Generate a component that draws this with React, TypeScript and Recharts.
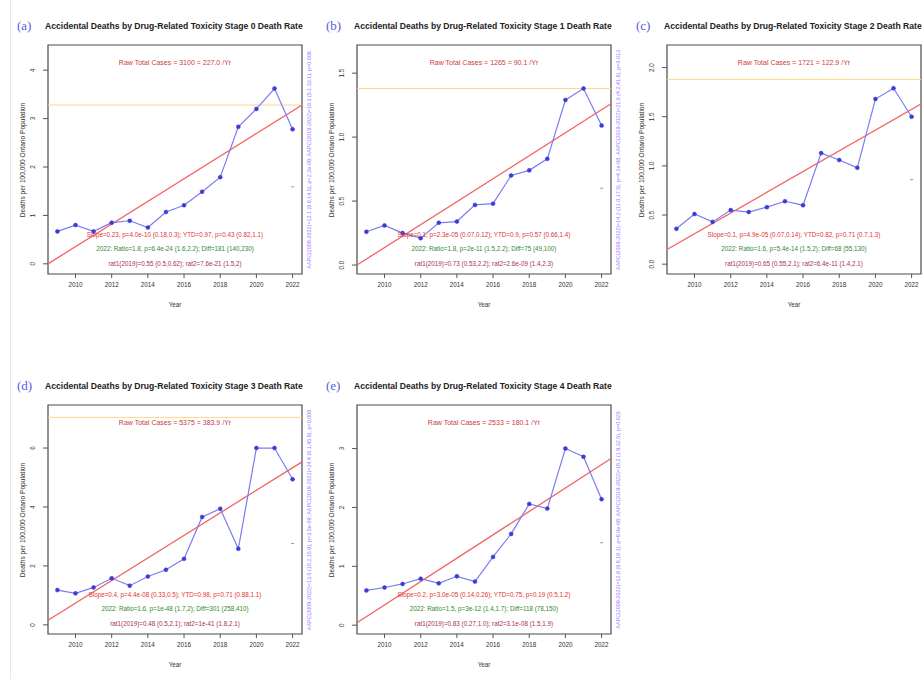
import {
  ComposedChart,
  Line,
  ReferenceArea,
  ReferenceLine,
  Scatter,
  XAxis,
  YAxis,
} from "recharts";

const YEARS = [2009, 2010, 2011, 2012, 2013, 2014, 2015, 2016, 2017, 2018, 2019, 2020, 2021, 2022];
const X_TICKS = [2010, 2012, 2014, 2016, 2018, 2020, 2022];
const X_DOMAIN: [number, number] = [2008.48, 2022.52];

// deaths per 100,000
const STAGE0_RATE = [0.67, 0.8, 0.67, 0.85, 0.89, 0.75, 1.07, 1.21, 1.49, 1.79, 2.83, 3.2, 3.62, 2.78];
const STAGE1_RATE = [0.26, 0.31, 0.25, 0.21, 0.33, 0.34, 0.47, 0.48, 0.7, 0.74, 0.83, 1.29, 1.38, 1.09];
const STAGE2_RATE = [0.36, 0.51, 0.43, 0.55, 0.53, 0.58, 0.64, 0.6, 1.13, 1.06, 0.98, 1.68, 1.79, 1.5];
const STAGE3_RATE = [1.18, 1.07, 1.27, 1.58, 1.33, 1.64, 1.87, 2.24, 3.66, 3.94, 2.58, 6.0, 6.0, 4.94];
const STAGE4_RATE = [0.59, 0.64, 0.7, 0.79, 0.71, 0.83, 0.74, 1.16, 1.55, 2.06, 1.98, 3.0, 2.86, 2.14];

const RATES = [STAGE0_RATE, STAGE1_RATE, STAGE2_RATE, STAGE3_RATE, STAGE4_RATE];
const PANEL_LABELS = ["(a)", "(b)", "(c)", "(d)", "(e)"];
const Y_TICKS = [
  [0, 1, 2, 3, 4],
  [0, 0.5, 1, 1.5],
  [0, 0.5, 1, 1.5, 2],
  [0, 2, 4, 6],
  [0, 1, 2, 3],
];
const Y_DECIMALS = [0, 1, 1, 0, 0];
const Y_DOMAINS: [number, number][] = [
  [-0.21, 4.52],
  [-0.07, 1.72],
  [-0.1, 2.23],
  [-0.31, 7.46],
  [-0.15, 3.74],
];
// fitted trend at the two ends of the year axis
const TREND_START = [0, 0, 0.15, 0.16, 0.04];
const TREND_END = [3.28, 1.26, 1.63, 5.53, 2.83];
const REF_LEVEL = [3.28, 1.38, 1.88, 7.04, null];
const MEAN_RATE = [1.59, 0.6, 0.86, 2.76, 1.4];

const RAW_TOTALS = [
  "Raw Total Cases = 3100 = 227.0 /Yr",
  "Raw Total Cases = 1265 = 90.1 /Yr",
  "Raw Total Cases = 1721 = 122.9 /Yr",
  "Raw Total Cases = 5375 = 383.9 /Yr",
  "Raw Total Cases = 2533 = 180.1 /Yr",
];
const SLOPE_TEXT = [
  "Slope=0.23, p=4.0e-10 (0.18,0.3);  YTD=0.97, p=0.43 (0.82,1.1)",
  "Slope=0.1, p=2.3e-05 (0.07,0.12);  YTD=0.9, p=0.57 (0.66,1.4)",
  "Slope=0.1, p=4.9e-05 (0.07,0.14);  YTD=0.82, p=0.71 (0.7,1.3)",
  "Slope=0.4, p=4.4e-08 (0.33,0.5);  YTD=0.98, p=0.71 (0.88,1.1)",
  "Slope=0.2, p=3.0e-05 (0.14,0.26);  YTD=0.75, p=0.19 (0.5,1.2)",
];
const RATIO_TEXT = [
  "2022:   Ratio=1.8, p=6.4e-24 (1.6,2.2);   Diff=181 (140,230)",
  "2022:   Ratio=1.8, p=2e-11 (1.5,2.2);   Diff=75 (49,100)",
  "2022:   Ratio=1.6, p=5.4e-14 (1.5,2);   Diff=68 (55,130)",
  "2022:   Ratio=1.6, p=1e-48 (1.7,2);   Diff=301 (258,410)",
  "2022:   Ratio=1.5, p=3e-12 (1.4,1.7);   Diff=118 (78,150)",
];
const RAT_TEXT = [
  "rat1(2019)=0.55 (0.5,0.62);  rat2=7.6e-21 (1.5,2)",
  "rat1(2019)=0.73 (0.53,2.2);  rat2=2.6e-09 (1.4,2.3)",
  "rat1(2019)=0.65 (0.55,2.1);  rat2=6.4e-11 (1.4,2.1)",
  "rat1(2019)=0.48 (0.5,2.1);  rat2=1e-41 (1.8,2.1)",
  "rat1(2019)=0.83 (0.27,1.0);  rat2=3.1e-08 (1.5,1.9)",
];
// panel (c) runs off the right edge of the figure, so its side note is not shown
const APC_TEXT = [
  "AAPC(2009-2022)=12.1 (9.8,14.5), p=2.2e-09; AAPC(2019-2022)=18.3 (5.1,33.1), p=0.006",
  "AAPC(2009-2022)=14.2 (11.0,17.5), p=4.1e-08; AAPC(2019-2022)=21.5 (4.2,41.6), p=0.013",
  null,
  "AAPC(2009-2022)=13.0 (10.2,15.9), p=3.5e-09; AAPC(2019-2022)=24.4 (6.1,45.9), p=0.008",
  "AAPC(2009-2022)=12.8 (9.6,16.1), p=6.0e-08; AAPC(2019-2022)=16.2 (1.9,32.5), p=0.025",
];

const PANEL_POS = [
  [0, 0],
  [309, 0],
  [619, 0],
  [0, 360],
  [309, 360],
];

const W = 310;
const H = 320;
const FL = 48; // frame left inside panel
const FT = 45; // frame top
const FW = 254;
const FH = 229;
const FONT = "'Liberation Sans', Arial, Helvetica, sans-serif";

function Panel({ i }: { i: number }) {
  const data = YEARS.map((year, k) => ({ year, rate: RATES[i][k] }));
  const trend = [
    { year: X_DOMAIN[0], fit: TREND_START[i] },
    { year: X_DOMAIN[1], fit: TREND_END[i] },
  ];
  const mean = [{ year: YEARS[YEARS.length - 1], avg: MEAN_RATE[i] }];
  const [yMin, yMax] = Y_DOMAINS[i];
  const level = REF_LEVEL[i];
  const side = APC_TEXT[i];

  return (
    <div
      style={{
        position: "absolute",
        left: PANEL_POS[i][0],
        top: PANEL_POS[i][1],
        width: W,
        height: H,
        fontFamily: FONT,
      }}
    >
      <div
        style={{
          position: "absolute",
          left: FL - 31,
          top: FT - 26,
          fontFamily: "'Liberation Serif', 'DejaVu Serif', serif",
          fontSize: 13,
          lineHeight: "14px",
          color: "#5a5ae6",
        }}
      >
        {PANEL_LABELS[i]}
      </div>
      <div
        style={{
          position: "absolute",
          left: FL - 3,
          top: FT - 24,
          fontSize: 8.6,
          lineHeight: "10px",
          fontWeight: "bold",
          color: "#222",
          whiteSpace: "nowrap",
        }}
      >
        {`Accidental Deaths by Drug-Related Toxicity Stage ${i} Death Rate`}
      </div>

      <ComposedChart
        width={W}
        height={H}
        data={data}
        margin={{ top: FT, right: W - FL - FW, bottom: H - FT - FH - 33, left: FL - 30 }}
      >
        <XAxis
          dataKey="year"
          type="number"
          domain={X_DOMAIN}
          ticks={X_TICKS}
          interval={0}
          allowDataOverflow
          axisLine={false}
          tickLine={{ stroke: "#555" }}
          tickSize={4}
          tickMargin={5}
          height={33}
          tick={{ fontSize: 6.3, fill: "#333" }}
          label={{ value: "Year", position: "insideBottom", offset: 0, fontSize: 6.3, fill: "#333" }}
        />
        <YAxis
          type="number"
          domain={Y_DOMAINS[i]}
          ticks={Y_TICKS[i]}
          interval={0}
          allowDataOverflow
          width={30}
          axisLine={false}
          tickLine={{ stroke: "#555" }}
          tickSize={5}
          tickMargin={8}
          tick={(p: any) => (
            <text
              x={p.x}
              y={p.y}
              transform={`rotate(-90 ${p.x} ${p.y})`}
              textAnchor="middle"
              fontSize={6.3}
              fill="#333"
            >
              {Number(p.payload.value).toFixed(Y_DECIMALS[i])}
            </text>
          )}
        />
        <ReferenceArea
          x1={X_DOMAIN[0]}
          x2={X_DOMAIN[1]}
          y1={yMin}
          y2={yMax}
          fill="none"
          fillOpacity={0}
          stroke="#4a4a4a"
          strokeOpacity={1}
          strokeWidth={1.2}
        />
        {level !== null && (
          <ReferenceLine y={level} stroke="#ffd589" strokeWidth={1} />
        )}
        <Line
          data={trend}
          dataKey="fit"
          type="linear"
          stroke="#f26464"
          strokeWidth={1.3}
          dot={false}
          activeDot={false}
          isAnimationActive={false}
        />
        <Line
          dataKey="rate"
          type="linear"
          stroke="#7c7cf2"
          strokeWidth={1.2}
          dot={{ r: 2, fill: "#3c3cd4", stroke: "#3c3cd4", strokeWidth: 0.5 }}
          activeDot={false}
          isAnimationActive={false}
        />
        <Scatter
          data={mean}
          dataKey="avg"
          isAnimationActive={false}
          shape={(p: any) => (
            <line x1={p.cx - 1.5} x2={p.cx + 1.5} y1={p.cy} y2={p.cy} stroke="#999" strokeWidth={1} />
          )}
        />
      </ComposedChart>

      <div
        style={{
          position: "absolute",
          left: FL,
          width: FW,
          top: FT + 14,
          textAlign: "center",
          fontSize: 7,
          lineHeight: "8px",
          color: "#cc3b3b",
          whiteSpace: "nowrap",
        }}
      >
        {RAW_TOTALS[i]}
      </div>
      {[
        { text: SLOPE_TEXT[i], color: "#e23434", dy: 39 },
        { text: RATIO_TEXT[i], color: "#2f8a2f", dy: 25 },
        { text: RAT_TEXT[i], color: "#a8304c", dy: 10 },
      ].map((row) => (
        <div
          key={row.dy}
          style={{
            position: "absolute",
            left: FL - 40,
            width: FW + 80,
            top: FT + FH - row.dy - 4,
            textAlign: "center",
            fontSize: 6.3,
            lineHeight: "8px",
            color: row.color,
            whiteSpace: "nowrap",
          }}
        >
          {row.text}
        </div>
      ))}
      <div
        style={{
          position: "absolute",
          left: FL - 26 - FH / 2,
          top: FT + FH / 2 - 4,
          width: FH,
          textAlign: "center",
          fontSize: 6.6,
          lineHeight: "8px",
          color: "#333",
          transform: "rotate(-90deg)",
          whiteSpace: "nowrap",
        }}
      >
        Deaths per 100,000 Ontario Population
      </div>
      {side && (
        <div
          style={{
            position: "absolute",
            left: FL + FW + 6 - FH / 2,
            top: FT + FH / 2 - 4,
            width: FH,
            textAlign: "center",
            fontSize: 5.4,
            lineHeight: "8px",
            color: "#a678ff",
            transform: "rotate(-90deg)",
            whiteSpace: "nowrap",
            overflow: "hidden",
          }}
        >
          {side}
        </div>
      )}
    </div>
  );
}

export default function App() {
  return (
    <div
      style={{
        position: "absolute",
        left: 0,
        top: 0,
        width: 922,
        height: 679,
        overflow: "hidden",
        background: "#fff",
      }}
    >
      <div
        style={{ position: "absolute", left: 10, top: 0, width: 1, height: 679, background: "#e6e6e6" }}
      />
      {RATES.map((_, i) => (
        <Panel key={i} i={i} />
      ))}
    </div>
  );
}
